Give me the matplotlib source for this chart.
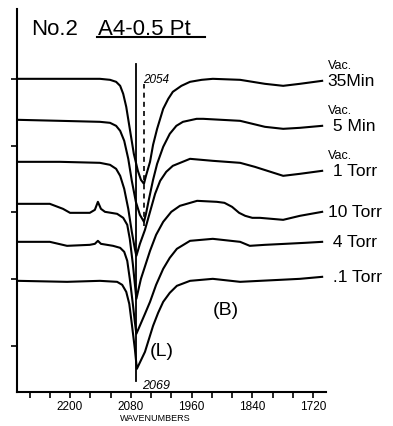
"""
IR spectra of CO on A4-0.5 Pt (No.2), redrawn from a scanned figure.
"""
import numpy as np
import matplotlib.pyplot as plt
from matplotlib.lines import Line2D
from matplotlib.ticker import FixedLocator, NullFormatter

plt.rcParams["font.family"] = ["Liberation Sans", "DejaVu Sans"]

# wavenumbers (cm-1) and transmittance (arb. units, stacked)
wn_35min = [2303, 2220, 2141, 2121, 2109, 2101, 2095, 2089, 2082, 2074, 2066, 2060,
            2054, 2050, 2042, 2036, 2028, 2016, 2006, 1997, 1980, 1963, 1940, 1918,
            1864, 1815, 1779, 1746, 1702]
t_35min = [313, 313, 313, 312, 310, 306, 298, 285, 263, 238, 221, 212,
           208, 216, 230, 247, 263, 283, 293, 300, 306, 310, 312, 313,
           312, 308, 306, 308, 311]

wn_5min = [2303, 2220, 2141, 2121, 2109, 2101, 2093, 2085, 2078, 2070, 2062, 2054,
           2050, 2044, 2036, 2028, 2016, 2003, 1990, 1977, 1950, 1937, 1864, 1815,
           1779, 1746, 1702]
t_5min = [272, 271, 270, 269, 266, 261, 251, 233, 211, 190, 177, 170,
          178, 193, 212, 228, 245, 258, 266, 270, 273, 273, 271, 265,
          263, 264, 266]

wn_1torr_vac = [2303, 2220, 2141, 2121, 2109, 2101, 2093, 2085, 2078, 2072, 2069, 2062,
                2052, 2042, 2032, 2022, 2010, 1997, 1963, 1918, 1864, 1835, 1779, 1746,
                1702]
t_1torr_vac = [230, 230, 229, 227, 223, 216, 203, 183, 160, 143, 136, 148,
               162, 180, 198, 211, 220, 226, 233, 231, 229, 225, 216, 218,
               221]

wn_10torr = [2303, 2240, 2214, 2200, 2161, 2151, 2145, 2139, 2131, 2107, 2095, 2087,
             2082, 2076, 2072, 2069, 2060, 2042, 2030, 2016, 2000, 1983, 1949, 1910,
             1895, 1880, 1866, 1854, 1840, 1825, 1779, 1746, 1702]
t_10torr = [188, 188, 183, 179, 179, 182, 190, 183, 180, 178, 174, 167,
            153, 128, 108, 93, 113, 141, 157, 170, 180, 186, 191, 190,
            189, 185, 179, 176, 174, 174, 172, 176, 180]

wn_4torr = [2303, 2240, 2206, 2161, 2151, 2145, 2139, 2115, 2101, 2093, 2087, 2082,
            2076, 2072, 2069, 2052, 2042, 2030, 2016, 2003, 1989, 1963, 1918, 1864,
            1845, 1815, 1775, 1736, 1702]
t_4torr = [150, 150, 146, 147, 148, 151, 148, 146, 144, 140, 131, 113,
           88, 70, 58, 78, 90, 107, 123, 134, 143, 151, 153, 150,
           146, 147, 148, 149, 150]

wn_01torr = [2303, 2206, 2141, 2107, 2097, 2089, 2083, 2078, 2072, 2068, 2052, 2036,
             2026, 2016, 2003, 1989, 1963, 1918, 1864, 1825, 1785, 1746, 1702]
t_01torr = [111, 110, 111, 110, 107, 100, 88, 68, 43, 23, 40, 66,
            79, 90, 99, 106, 111, 113, 110, 111, 112, 113, 115]

band_l = 2069   # linear CO, low coverage
band_h = 2054   # after evacuation

major_ticks = [2200, 2080, 1960, 1840, 1720]
minor_ticks = [2280, 2240, 2160, 2120, 2040, 2000, 1920, 1880, 1800, 1760]
row_ticks = [46, 113, 180, 246, 313]

spectra = [
    (wn_35min, t_35min, ["Vac.", "35Min"]),
    (wn_5min, t_5min, ["Vac.", " 5 Min"]),
    (wn_1torr_vac, t_1torr_vac, ["Vac.", " 1 Torr"]),
    (wn_10torr, t_10torr, [None, "10 Torr"]),
    (wn_4torr, t_4torr, [None, " 4 Torr"]),
    (wn_01torr, t_01torr, [None, " .1 Torr"]),
]

fig = plt.figure(figsize=(3.93, 4.27), dpi=100)
ax = fig.add_axes([0.043, 0.080, 0.787, 0.897])

trans = ax.get_yaxis_transform()
for wn, t, (small, big) in spectra:
    ax.plot(wn, t, color="black", lw=1.5, solid_joinstyle="round")
    ax.text(1.005, t[-1], big, transform=trans, fontsize=12.5,
            va="center", ha="left")
    if small:
        ax.text(1.005, t[-1] + 16, small, transform=trans, fontsize=9,
                va="center", ha="left")

# band position markers
ax.plot([band_l, band_l], [11, 328], color="black", lw=1.3)
ax.plot([band_h, band_h], [166, 308], color="black", lw=1.2, ls=(0, (3, 2.5)))
ax.text(0.408, 313, str(band_h), transform=trans, fontsize=8.5,
        style="italic", va="center")
ax.text(0.405, 7, str(band_l), transform=trans, fontsize=9,
        style="italic", va="center")
ax.text(0.43, 41, "(L)", transform=trans, fontsize=14, va="center")
ax.text(0.634, 82, "(B)", transform=trans, fontsize=14, va="center")

ax.set_xlim(2305, 1694)
ax.set_ylim(0, 383)

ax.xaxis.set_major_locator(FixedLocator(major_ticks))
ax.xaxis.set_minor_locator(FixedLocator(minor_ticks))
ax.xaxis.set_minor_formatter(NullFormatter())
ax.set_xticklabels([str(v) for v in major_ticks])
ax.set_yticks(row_ticks)
ax.set_yticklabels([])
ax.tick_params(axis="both", which="both", direction="out", length=4,
               width=1.2, labelsize=8.5, pad=2)

for side in ["top", "right"]:
    ax.spines[side].set_visible(False)
for side in ["left", "bottom"]:
    ax.spines[side].set_linewidth(1.5)

ax.text(0.447, -0.068, "WAVENUMBERS", transform=ax.transAxes,
        fontsize=6.5, ha="center", va="center")

# title block, hand lettered in the scan
fig.text(0.078, 0.918, "No.2", fontsize=16)
fig.text(0.249, 0.918, "A4-0.5 Pt", fontsize=16)
fig.add_artist(Line2D([0.247, 0.522], [0.912, 0.912], color="black", lw=1.5))

plt.savefig("out.png", dpi=100)
